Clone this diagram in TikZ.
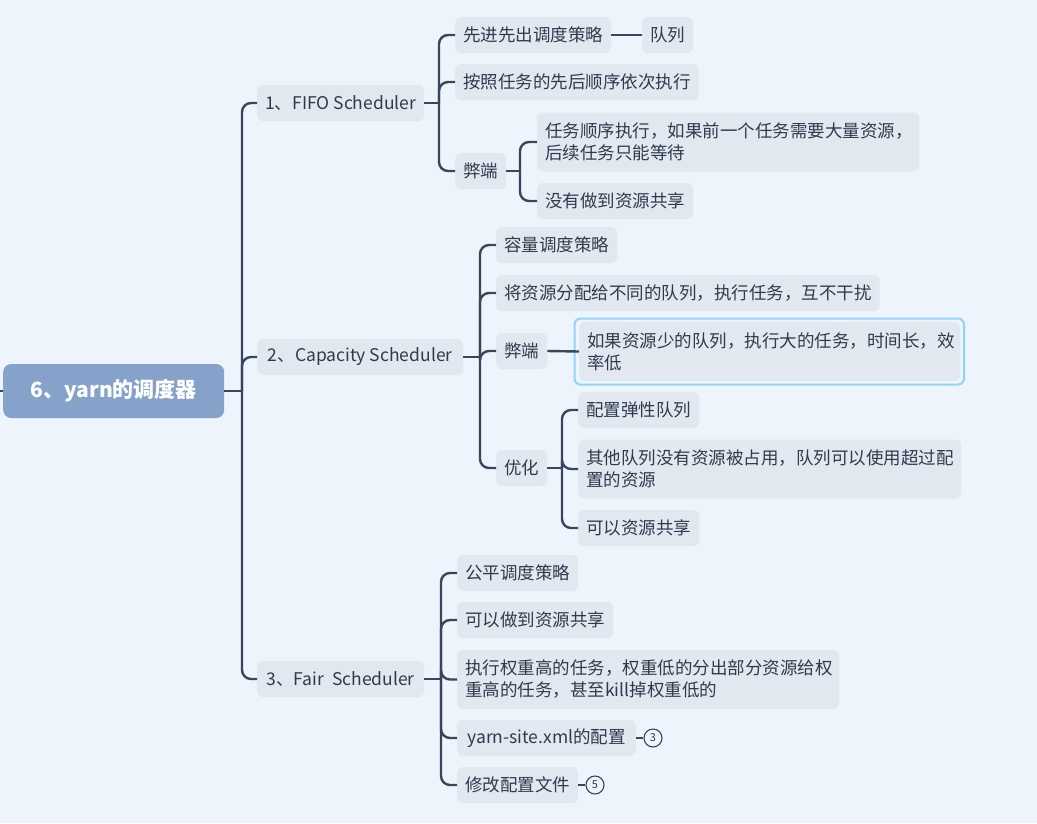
\documentclass[tikz,border=0pt]{standalone}
\usepackage{fontspec}
\setmainfont{Noto Sans CJK SC}
\definecolor{bg}{HTML}{EEF4FB}
\definecolor{nodefill}{HTML}{E2E8F0}
\definecolor{txt}{HTML}{2E3B4E}
\definecolor{linec}{HTML}{36465D}
\definecolor{rootfill}{HTML}{86A2CA}
\definecolor{hilite}{HTML}{8FD4F9}
\newcommand\fs{\fontsize{17.5}{22}\selectfont}
\tikzset{
  box/.style={fill=nodefill, rounded corners=6pt, text=txt, anchor=west,
    minimum height=36pt, inner xsep=8pt, inner ysep=0pt, font=\fs},
  twoline/.style={box, minimum height=59pt, align=left},
  conn/.style={draw=linec, line width=2.4pt},
  elbow/.style={conn, rounded corners=9pt},
  circ/.style={circle, draw=linec, line width=1.1pt, fill=bg, minimum size=18pt,
    inner sep=0pt, text=txt, font=\fontsize{11}{11}\selectfont},
}
\begin{document}
\begin{tikzpicture}[x=1pt,y=-1pt]
\fill[bg] (0,0) rectangle (1037,823);
\useasboundingbox (0,0) rectangle (1037,823);

% root
\node[fill=rootfill, rounded corners=8pt, anchor=west, minimum width=221pt,
  minimum height=54pt, inner sep=0pt, text=white,
  font=\fontsize{21}{24}\selectfont\bfseries] (root) at (3,391) {6、yarn的调度器};
\coordinate (lft) at (0,391);

% level 1
\node[box, minimum width=165pt] (fifo) at (257,103) {1、FIFO Scheduler};
\node[box, minimum width=206pt] (cap) at (257,357) {2、Capacity Scheduler};
\node[box, minimum width=167pt] (fair) at (257,679) {3、Fair\ \ Scheduler};

% FIFO children
\node[box, minimum width=154pt] (n11) at (455,35) {先进先出调度策略};
\node[box, minimum width=50pt] (n111) at (642,35) {队列};
\node[box, minimum width=241pt] (n12) at (455,82) {按照任务的先后顺序依次执行};
\node[box, minimum width=49pt] (n13) at (455,171) {弊端};
\node[twoline, text width=366pt] (n131) at (537,142) {任务顺序执行，如果前一个任务需要大量资源，\\后续任务只能等待};
\node[box, minimum width=155pt] (n132) at (537,201) {没有做到资源共享};

% Capacity children
\node[box, minimum width=120pt] (n21) at (496,245) {容量调度策略};
\node[box, minimum width=382pt] (n22) at (496,293) {将资源分配给不同的队列，执行任务，互不干扰};
\node[box, minimum width=50pt] (n23) at (496,351) {弊端};
\node[twoline, text width=365pt] (n231) at (579,351.5) {如果资源少的队列，执行大的任务，时间长，效\\率低};
\draw[hilite, line width=2pt, rounded corners=6pt] (574.5,318.5) rectangle (964,384.5);
\node[box, minimum width=50pt] (n24) at (496,468) {优化};
\node[box, minimum width=120pt] (n241) at (578,410) {配置弹性队列};
\node[twoline, text width=367pt] (n242) at (578,469) {其他队列没有资源被占用，队列可以使用超过配\\置的资源};
\node[box, minimum width=120pt] (n243) at (578,528) {可以资源共享};

% Fair children
\node[box, minimum width=120pt] (n31) at (457,573) {公平调度策略};
\node[box, minimum width=154pt] (n32) at (457,620) {可以做到资源共享};
\node[twoline, text width=366pt] (n33) at (457,679.5) {执行权重高的任务，权重低的分出部分资源给权\\重高的任务，甚至kill掉权重低的};
\node[box, minimum width=179pt] (n34) at (457,738) {yarn-site.xml的配置};
\node[circ] (c3) at (653,738) {3};
\node[box, minimum width=120pt] (n35) at (457,785) {修改配置文件};
\node[circ] (c5) at (595,785) {5};

% junction coordinates
\coordinate (j0) at (242,391);
\coordinate (j1) at (439,103);
\coordinate (j13) at (520,171);
\coordinate (j2) at (480,357);
\coordinate (j24) at (562,468);
\coordinate (j3) at (441,679);

% connectors
\draw[conn] (lft) -- (root.west);
\draw[conn] (root.east) -- (j0);
\foreach \c in {fifo,cap,fair} \draw[elbow] (j0) |- (\c.west);

\draw[conn] (fifo.east) -- (j1);
\foreach \c in {n11,n12,n13} \draw[elbow] (j1) |- (\c.west);
\draw[conn] (n11.east) -- (n111.west);
\draw[conn] (n13.east) -- (j13);
\foreach \c in {n131,n132} \draw[elbow] (j13) |- (\c.west);

\draw[conn] (cap.east) -- (j2);
\foreach \c in {n21,n22,n23,n24} \draw[elbow] (j2) |- (\c.west);
\draw[conn] (n23.east) -- (n231.west);
\draw[conn] (n24.east) -- (j24);
\foreach \c in {n241,n242,n243} \draw[elbow] (j24) |- (\c.west);

\draw[conn] (fair.east) -- (j3);
\foreach \c in {n31,n32,n33,n34,n35} \draw[elbow] (j3) |- (\c.west);
\draw[conn] (n34.east) -- (c3.west);
\draw[conn] (n35.east) -- (c5.west);
\end{tikzpicture}
\end{document}
